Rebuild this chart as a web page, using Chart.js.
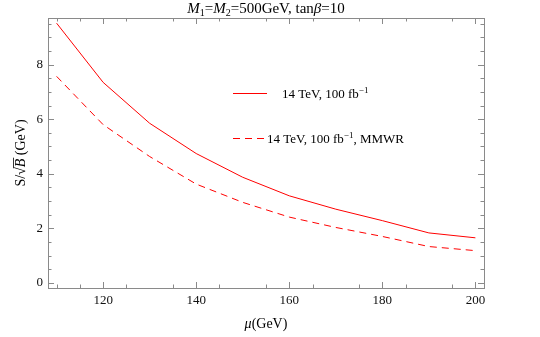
<!DOCTYPE html>
<html>
<head>
<meta charset="utf-8">
<script src="https://cdn.jsdelivr.net/npm/chart.js@4.4.1/dist/chart.umd.min.js"></script>
<style>
  html, body { margin: 0; padding: 0; background: #fff; }
  #wrap { width: 540px; height: 337px; position: relative; }
</style>
</head>
<body>
<div id="wrap"><canvas id="chart" width="540" height="337"></canvas></div>
<script>
// mu values (GeV) and S/sqrt(B)
const muValues = [110, 120, 130, 140, 150, 160, 170, 180, 190, 200];
const sigNominal = [9.52, 7.35, 5.85, 4.74, 3.87, 3.19, 2.70, 2.28, 1.83, 1.65];
const sigMMWR = [7.57, 5.80, 4.63, 3.62, 2.95, 2.41, 2.03, 1.70, 1.33, 1.18];

const xTickLabels = [120, 140, 160, 180, 200];
const yTickLabels = [0, 2, 4, 6, 8];
const xMinorTicks = [110, 115, 125, 135, 145, 155, 165, 175, 185, 195];
const yMinorTicks = [0.5, 1, 1.5, 2.5, 3, 3.5, 4.5, 5, 5.5, 6.5, 7, 7.5, 8.5, 9, 9.5];

const SERIF = "'Liberation Serif', 'DejaVu Serif', serif";
const RED = "rgb(255, 0, 0)";
const FRAME = "#8a8a8a";

function toPoints(xs, ys) {
    return xs.map((x, i) => ({ x: x, y: ys[i] }));
}

// draws text pieces in a row, each piece {t, font, dy}
function drawRun(ctx, pieces, x, y, align) {
    let total = 0;
    pieces.forEach((p) => {
        ctx.font = p.font;
        p.w = ctx.measureText(p.t).width;
        total += p.w;
    });
    let cx = align === "center" ? x - total / 2 : x;
    pieces.forEach((p) => {
        ctx.font = p.font;
        ctx.fillText(p.t, cx, y + (p.dy || 0));
        p.x0 = cx;
        cx += p.w;
    });
    return pieces;
}

const framePlugin = {
    id: "mmaFrame",
    beforeDatasetsDraw(chart) {
        const ctx = chart.ctx;
        const a = chart.chartArea;
        const xs = chart.scales.x;
        const ys = chart.scales.y;
        ctx.save();
        ctx.strokeStyle = FRAME;
        ctx.lineWidth = 1;
        ctx.strokeRect(Math.round(a.left) + 0.5, Math.round(a.top) + 0.5,
            Math.round(a.right - a.left), Math.round(a.bottom - a.top));
        ctx.beginPath();
        const tickX = (v, len) => {
            const px = Math.round(xs.getPixelForValue(v)) + 0.5;
            ctx.moveTo(px, a.bottom); ctx.lineTo(px, a.bottom - len);
            ctx.moveTo(px, a.top); ctx.lineTo(px, a.top + len);
        };
        const tickY = (v, len) => {
            const py = Math.round(ys.getPixelForValue(v)) + 0.5;
            ctx.moveTo(a.left, py); ctx.lineTo(a.left + len, py);
            ctx.moveTo(a.right, py); ctx.lineTo(a.right - len, py);
        };
        xTickLabels.forEach((v) => tickX(v, 6));
        xMinorTicks.forEach((v) => tickX(v, 3.5));
        yTickLabels.forEach((v) => tickY(v, 6));
        yMinorTicks.forEach((v) => tickY(v, 3.5));
        ctx.stroke();
        ctx.restore();
    },
    afterDraw(chart) {
        const ctx = chart.ctx;
        const a = chart.chartArea;
        ctx.save();
        ctx.fillStyle = "#000";
        ctx.textBaseline = "alphabetic";

        // title
        const f = "15px " + SERIF;
        const fi = "italic 15px " + SERIF;
        const fs = "10px " + SERIF;
        drawRun(ctx, [
            { t: "M", font: fi }, { t: "1", font: fs, dy: 3 },
            { t: "=", font: f },
            { t: "M", font: fi }, { t: "2", font: fs, dy: 3 },
            { t: "=500GeV, tan", font: f },
            { t: "\u03B2", font: fi },
            { t: "=10", font: f }
        ], (a.left + a.right) / 2, 13, "center");

        // x title
        drawRun(ctx, [
            { t: "\u03BC", font: "italic 14px " + SERIF },
            { t: "(GeV)", font: "14px " + SERIF }
        ], (a.left + a.right) / 2, 328, "center");

        // y title, rotated
        ctx.save();
        ctx.translate(25, (a.top + a.bottom) / 2);
        ctx.rotate(-Math.PI / 2);
        const yp = drawRun(ctx, [
            { t: "S/", font: "14px " + SERIF },
            { t: "\u221A", font: "14px " + SERIF },
            { t: "B", font: "italic 14px " + SERIF },
            { t: " (GeV)", font: "14px " + SERIF }
        ], 0, 0, "center");
        ctx.strokeStyle = "#000";
        ctx.lineWidth = 0.8;
        ctx.beginPath();
        ctx.moveTo(yp[1].x0 + yp[1].w - 1, -11.5);
        ctx.lineTo(yp[2].x0 + yp[2].w + 1, -11.5);
        ctx.stroke();
        ctx.restore();

        // legend
        const lf = "13px " + SERIF;
        const ls = "9px " + SERIF;
        ctx.strokeStyle = RED;
        ctx.lineWidth = 1;
        ctx.beginPath();
        ctx.moveTo(233, 93.5); ctx.lineTo(267, 93.5);
        ctx.stroke();
        ctx.setLineDash([7, 5]);
        ctx.beginPath();
        ctx.moveTo(233, 138.5); ctx.lineTo(265, 138.5);
        ctx.stroke();
        ctx.setLineDash([]);
        drawRun(ctx, [
            { t: "14 TeV, 100 fb", font: lf },
            { t: "\u22121", font: ls, dy: -5 }
        ], 282, 98, "left");
        drawRun(ctx, [
            { t: "14 TeV, 100 fb", font: lf },
            { t: "\u22121", font: ls, dy: -5 },
            { t: ", MMWR", font: lf }
        ], 267, 143, "left");
        ctx.restore();
    }
};

const ctx = document.getElementById("chart").getContext("2d");
new Chart(ctx, {
    type: "line",
    data: {
        datasets: [
            {
                label: "14 TeV, 100 fb-1",
                data: toPoints(muValues, sigNominal),
                borderColor: RED,
                borderWidth: 1,
                pointRadius: 0,
                tension: 0,
                fill: false,
            },
            {
                label: "14 TeV, 100 fb-1, MMWR",
                data: toPoints(muValues, sigMMWR),
                borderColor: RED,
                borderWidth: 1,
                borderDash: [7, 5],
                pointRadius: 0,
                tension: 0,
                fill: false,
            },
        ],
    },
    options: {
        responsive: false,
        animation: false,
        devicePixelRatio: 1,
        layout: {
            padding: { left: 0, right: 56, top: 18, bottom: 0 },
        },
        scales: {
            x: {
                type: "linear",
                min: 108.15,
                max: 201.85,
                grid: { display: false, drawTicks: false },
                border: { display: false },
                afterBuildTicks: (scale) => {
                    scale.ticks = xTickLabels.map((v) => ({ value: v }));
                },
                afterFit: (scale) => { scale.height = 49; },
                ticks: {
                    padding: 5,
                    color: "#111",
                    font: { family: SERIF, size: 13 },
                    maxRotation: 0,
                    callback: (v) => String(v),
                },
            },
            y: {
                min: -0.19,
                max: 9.71,
                grid: { display: false, drawTicks: false },
                border: { display: false },
                afterBuildTicks: (scale) => {
                    scale.ticks = yTickLabels.map((v) => ({ value: v }));
                },
                afterFit: (scale) => { scale.width = 48; },
                ticks: {
                    padding: 5,
                    color: "#111",
                    font: { family: SERIF, size: 13 },
                    callback: (v) => String(v),
                },
            },
        },
        plugins: {
            legend: { display: false },
            tooltip: { enabled: false },
        },
    },
    plugins: [framePlugin],
});
</script>
</body>
</html>
